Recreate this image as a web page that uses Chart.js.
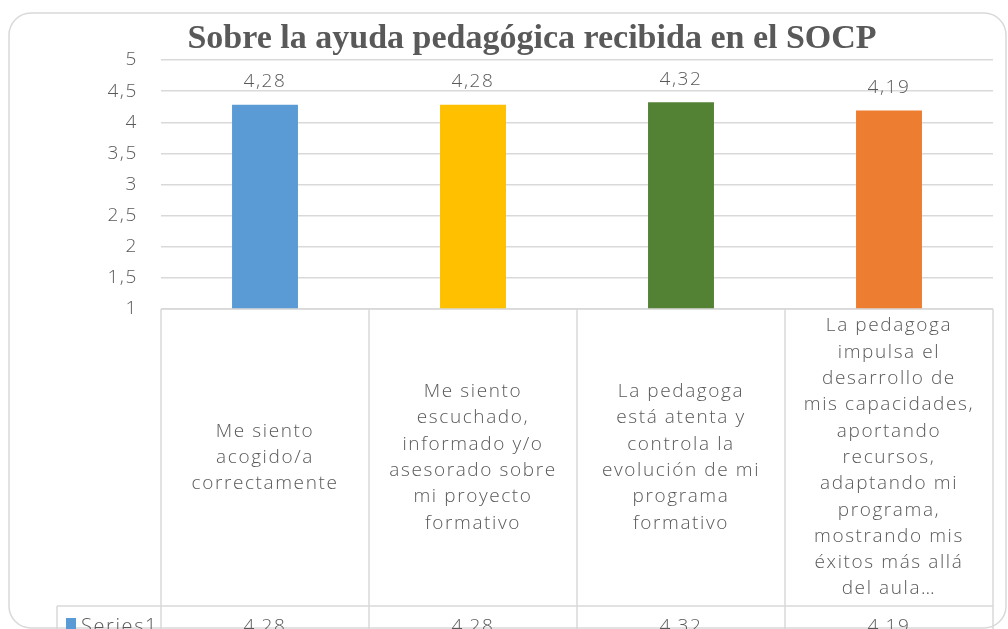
<!DOCTYPE html>
<html>
<head>
<meta charset="utf-8">
<script src="https://cdn.jsdelivr.net/npm/chart.js@4/dist/chart.umd.min.js"></script>
<style>
  html, body { margin: 0; padding: 0; background: #fff; }
  #wrap { width: 1008px; height: 629px; overflow: hidden; }
</style>
</head>
<body>
<div id="wrap"><canvas id="chart" width="1008" height="629"></canvas></div>
<script>
// ==================== DATA ====================
const title = 'Sobre la ayuda pedagógica recibida en el SOCP';
const seriesName = 'Series1';
const categories = [
  ['Me siento', 'acogido/a', 'correctamente'],
  ['Me siento', 'escuchado,', 'informado y/o', 'asesorado sobre', 'mi proyecto', 'formativo'],
  ['La pedagoga', 'está atenta y', 'controla la', 'evolución de mi', 'programa', 'formativo'],
  ['La pedagoga', 'impulsa el', 'desarrollo de', 'mis capacidades,', 'aportando', 'recursos,', 'adaptando mi', 'programa,', 'mostrando mis', 'éxitos más allá', 'del aula…']
];
const values = [4.28, 4.28, 4.32, 4.19];
const barColors = ['#5B9BD5', '#FFC000', '#548235', '#ED7D31'];
const yMin = 1, yMax = 5, yStep = 0.5;

const TEXT = '#595959';
const LINE = '#d9d9d9';
const SANS = '"Open Sans", Lato, sans-serif';
const SPACING = '1.6px';
const fmt = v => String(v).replace('.', ',');

// ==================== TABLE / LABELS ====================
const tablePlugin = {
  id: 'dataTable',
  beforeDraw(chart) {
    const { ctx } = chart;
    ctx.save();
    ctx.strokeStyle = LINE;
    ctx.lineWidth = 1.5;
    const r = 22, x0 = 9, y0 = 13, x1 = 1006, y1 = 628;
    ctx.beginPath();
    ctx.moveTo(x0 + r, y0);
    ctx.lineTo(x1 - r, y0);
    ctx.arcTo(x1, y0, x1, y0 + r, r);
    ctx.lineTo(x1, y1 - r);
    ctx.arcTo(x1, y1, x1 - r, y1, r);
    ctx.lineTo(x0 + r, y1);
    ctx.arcTo(x0, y1, x0, y1 - r, r);
    ctx.lineTo(x0, y0 + r);
    ctx.arcTo(x0, y0, x0 + r, y0, r);
    ctx.stroke();
    ctx.restore();
    // wider tracking for the tick labels, like the original
    ctx.letterSpacing = SPACING;
  },
  afterDraw(chart) {
    const { ctx, chartArea, scales } = chart;
    const xs = scales.x;
    const top = chartArea.bottom;
    const rowTop = 606;
    const bottom = 640;
    const half = (xs.getPixelForValue(1) - xs.getPixelForValue(0)) / 2;
    const edges = [];
    for (let i = 0; i < categories.length; i++) edges.push(xs.getPixelForValue(i) - half);
    edges.push(xs.getPixelForValue(categories.length - 1) + half);
    const tableLeft = 57;

    ctx.save();
    ctx.letterSpacing = SPACING;
    ctx.strokeStyle = LINE;
    ctx.lineWidth = 1.5;
    ctx.beginPath();
    edges.forEach(x => { ctx.moveTo(x, top); ctx.lineTo(x, bottom); });
    ctx.moveTo(edges[0], top); ctx.lineTo(edges[edges.length - 1], top);
    ctx.moveTo(tableLeft, rowTop); ctx.lineTo(edges[edges.length - 1], rowTop);
    ctx.moveTo(tableLeft, rowTop); ctx.lineTo(tableLeft, bottom);
    ctx.stroke();

    // category labels
    ctx.fillStyle = TEXT;
    ctx.font = '300 19px ' + SANS;
    ctx.textAlign = 'center';
    ctx.textBaseline = 'middle';
    const lh = 26.3;
    const mid = (top + rowTop) / 2;
    categories.forEach((lines, i) => {
      const cx = xs.getPixelForValue(i);
      const start = mid - (lines.length - 1) * lh / 2;
      lines.forEach((t, k) => ctx.fillText(t, cx, start + k * lh));
    });

    // series row
    const rowMid = 627;
    values.forEach((v, i) => ctx.fillText(fmt(v), xs.getPixelForValue(i), rowMid));
    ctx.fillStyle = barColors[0];
    ctx.fillRect(66, 618, 10, 12);
    ctx.fillStyle = TEXT;
    ctx.textAlign = 'left';
    ctx.font = '300 20px ' + SANS;
    ctx.fillText(seriesName, 81, rowMid);

    // data labels
    const meta = chart.getDatasetMeta(0);
    ctx.font = '300 19px ' + SANS;
    ctx.textAlign = 'center';
    ctx.textBaseline = 'middle';
    meta.data.forEach((bar, i) => ctx.fillText(fmt(values[i]), bar.x, bar.y - 23));

    // title
    ctx.letterSpacing = '0px';
    ctx.font = 'bold 34px "Liberation Serif", "DejaVu Serif", serif';
    ctx.fillText(title, 532, 39);
    ctx.restore();
  }
};

// ==================== CHART ====================
new Chart(document.getElementById('chart'), {
  type: 'bar',
  data: {
    labels: categories,
    datasets: [{
      label: seriesName,
      data: values,
      backgroundColor: barColors,
      barPercentage: 0.317,
      categoryPercentage: 1
    }]
  },
  options: {
    responsive: false,
    animation: false,
    layout: { padding: { left: 0, top: 60, right: 15, bottom: 320 } },
    plugins: { legend: { display: false }, title: { display: false }, tooltip: { enabled: false } },
    scales: {
      x: { display: false },
      y: {
        min: yMin, max: yMax,
        afterFit(scale) { scale.width = 161; },
        border: { display: false },
        grid: { color: LINE, lineWidth: 1.5, drawTicks: false },
        ticks: {
          stepSize: yStep,
          padding: 23,
          color: TEXT,
          font: { family: SANS, size: 19, weight: 300 },
          callback: v => fmt(v)
        }
      }
    }
  },
  plugins: [tablePlugin]
});
</script>
</body>
</html>
